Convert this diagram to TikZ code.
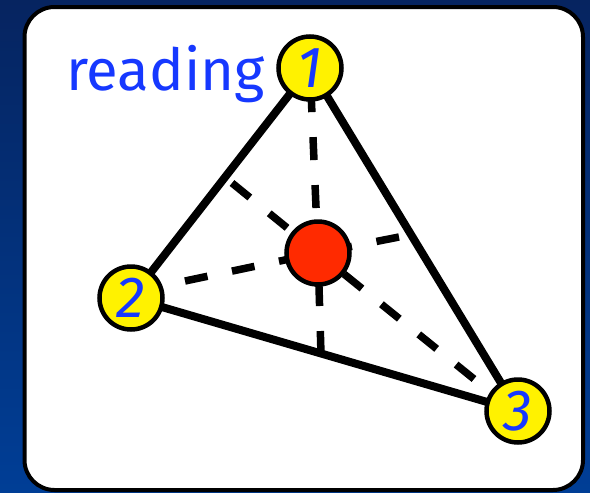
\documentclass[tikz,border=0pt]{standalone}
\usepackage{fontspec}
\setsansfont{Fira Sans}
\usetikzlibrary{positioning}
\definecolor{navytop}{RGB}{6,36,96}
\definecolor{navybot}{RGB}{0,62,150}
\definecolor{labelblue}{RGB}{22,56,255}
\definecolor{dotred}{RGB}{255,42,0}

\begin{document}
\begin{tikzpicture}[
  x=1pt, y=-1pt,
  vertex/.style={circle, draw=black, line width=4.5pt, fill=yellow, minimum size=63pt,
                 inner sep=0pt, text=labelblue,
                 font=\sffamily\itshape\fontsize{58}{58}\selectfont},
  hub/.style={circle, draw=black, line width=4.5pt, fill=dotred, minimum size=63pt, inner sep=0pt},
  edge/.style={line width=8pt},
  spoke/.style={line width=7.5pt, dash pattern=on 23pt off 25pt}
]
% background and card
\useasboundingbox (0,0) rectangle (590,493);
\shade[top color=navytop, bottom color=navybot] (0,0) rectangle (590,493);
\draw[line width=4pt, fill=white, rounded corners=30pt] (24.5,7) rectangle (583,490);
\node[anchor=base west, inner sep=0pt, text=labelblue,
      font=\sffamily\fontsize{58}{58}\selectfont] (lbl) at (66,90) {reading};
% corners and centre
\coordinate (c1) at (310,68);
\coordinate (c2) at (131,298);
\coordinate (c3) at (518,411);
\coordinate (c0) at (318,253);
% free ends of the spokes
\coordinate (s12) at (232,183);
\coordinate (s13) at (399,237);
\coordinate (s23) at (321,354);
\coordinate (t2) at (185,281);
\coordinate (t3) at (474,379);
% triangle and spokes
\draw[edge] (c1) -- (c2) -- (c3) -- cycle;
\draw[spoke, dash phase=3pt] (c0) -- (c1);
\draw[spoke] (t2) -- (c0);
\draw[spoke] (t3) -- (c0);
\draw[spoke] (s12) -- (c0);
\draw[spoke] (s13) -- (c0);
\draw[spoke] (s23) -- (c0);
% nodes
\node[vertex] (n1) at (c1) {1};
\node[vertex] (n2) at (c2) {2};
\node[vertex] (n3) at (c3) {3};
\node[hub] (ctr) at (c0) {};
\end{tikzpicture}
\end{document}
